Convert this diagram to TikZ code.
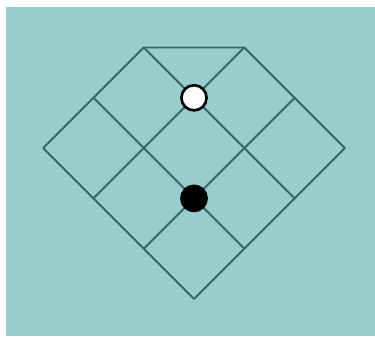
\documentclass[tikz,border=0pt]{standalone}
\usepackage{tikz}
\usetikzlibrary{positioning}

\definecolor{boardbg}{HTML}{99CCCC}
\definecolor{gridline}{HTML}{336666}

\begin{document}
\begin{tikzpicture}[
    gridl/.style={draw=gridline, line width=1.1pt},
    whitestone/.style={circle, draw=black, fill=white, line width=1.5pt, minimum size=0.5cm, inner sep=0pt},
    blackstone/.style={circle, draw=black, fill=black, line width=1.5pt, minimum size=0.5cm, inner sep=0pt}
]
\useasboundingbox (-3.857,-0.736) rectangle (3.598,5.944);
\fill[boardbg] (-3.738,-0.736) rectangle (3.598,5.805);
\begin{scope}[x={(1cm,1cm)}, y={(-1cm,1cm)}]
\foreach \i in {0,1,2} {
    \draw[gridl] (\i,0) -- (\i,3);
    \draw[gridl] (0,\i) -- (3,\i);
}
\draw[gridl] (3,0) -- (3,2) -- (2,3) -- (0,3);
\node[whitestone] (w) at (2,2) {};
\node[blackstone] (b) at (1,1) {};
\end{scope}
\end{tikzpicture}
\end{document}
